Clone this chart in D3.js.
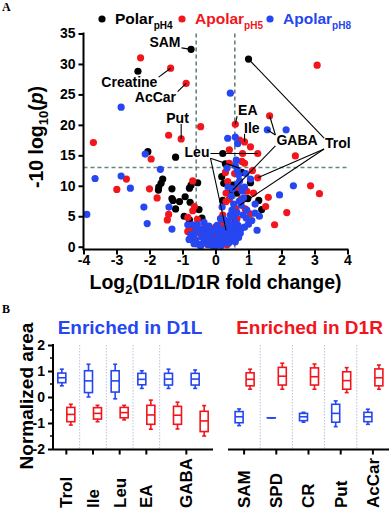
<!DOCTYPE html>
<html><head><meta charset="utf-8">
<script src="https://cdn.jsdelivr.net/npm/d3@7"></script>
<style>
html,body{margin:0;padding:0;background:#fff;}
svg{display:block;font-family:"Liberation Sans",Arial,sans-serif;}
</style></head><body>
<svg id="c" width="391" height="520"></svg>
<script>
// ---------------- DATA ----------------
const xTicksA = [-4,-3,-2,-1,0,1,2,3,4];
const yTicksA = [0,5,10,15,20,25,30,35];
const foldCut = 0.585;      // log2(1.5)
const pCut = 13.01;         // -10 log10(0.05)

const polarPH4 = [[-0.74,32.4],[-2.35,28.8],[1.0,30.8],[-2.05,15.6],[-1.21,14.7],[-1.6,11.1],[-1.65,10.4],[-1.72,9.8],[-1.73,9.3],[-1.32,9.5],[-1.32,7.9],[-1.29,7.6],[-1.09,7.4],[-0.92,8.2],[-1.21,6.2],[-0.77,7.3],[-0.79,9.6],[-0.74,10.1],[-0.54,10.5],[-0.79,4.4],[1.31,7.6],[1.4,6.1],[1.06,10.5],[0.22,15.3],[0.19,11.5],[0.25,10.4],[0.52,10.1],[0.45,9.3],[0.22,7.6],[0.98,7.9],[-0.41,4.7],[-0.6,3.2],[-0.3,1.8],[0.12,1.2],[0.38,3.1],[0.55,5.6],[0.3,0.6],[0.65,8.8],[0.6,4.2],[-0.15,0.9],[0.05,2.3],[0.8,12.2],[-0.5,6.1],[-0.95,5.0],[0.7,2.9],[0.3,13.6]];

const apolarPH5 = [[-2.27,31.0],[-1.36,29.3],[-0.89,26.8],[-1.42,18.3],[-1.04,17.7],[-0.45,19.7],[3.08,29.8],[1.64,21.5],[0.6,20.1],[-3.7,17.1],[-1.95,14.4],[-2.7,11.1],[-2.99,9.4],[-2.0,9.5],[-1.77,8.0],[-1.46,4.4],[-1.42,5.3],[-0.69,10.8],[-0.69,5.9],[-0.64,6.6],[-0.84,4.8],[-0.84,2.5],[1.06,16.4],[1.28,15.3],[2.42,14.9],[1.28,11.3],[2.88,10.0],[3.15,8.7],[1.6,8.1],[2.16,5.6],[1.79,3.6],[0.8,14.0],[0.88,13.7],[0.88,17.2],[0.73,17.5],[0.42,15.9],[0.82,15.3],[0.42,13.7],[0.37,10.7],[0.32,8.8],[0.42,7.8],[0.32,7.4],[0.22,5.2],[0.07,2.7],[1.52,6.6],[0.58,12.0],[0.7,9.7],[0.9,6.2],[-0.62,1.2],[-0.45,2.2],[-0.2,1.1],[-0.05,0.5],[0.15,0.9],[0.28,1.6],[0.45,2.4],[0.52,3.6],[0.18,3.8],[-0.32,3.3],[0.62,6.2],[0.95,9.1],[1.12,12.5],[0.3,12.2],[1.15,8.8],[-0.1,2.0],[-0.55,4.5],[-0.7,3.0],[0.1,1.6],[0.35,0.3],[0.55,1.2],[0.65,4.6],[0.78,7.8],[-0.25,0.4],[0.0,3.2],[1.05,5.4]];

const apolarPH8 = [[-2.86,22.9],[0.45,25.2],[1.57,19.2],[2.14,19.2],[0.37,17.8],[0.6,18.0],[-2.13,15.2],[-1.67,12.7],[-3.65,11.2],[-2.86,11.6],[-2.58,9.6],[-2.17,6.5],[-1.41,6.5],[-3.9,5.3],[-2.07,3.8],[-1.32,2.9],[-0.84,3.6],[-0.7,3.6],[-0.69,1.5],[-0.58,2.7],[2.36,10.0],[1.94,8.5],[1.33,5.0],[1.2,5.5],[1.26,2.7],[1.06,11.1],[0.73,10.8],[0.63,14.2],[0.66,12.6],[0.7,11.8],[0.67,16.9],[0.35,12.9],[0.48,8.3],[0.78,6.8],[0.83,5.2],[0.93,4.7],[0.5,6.0],[1.0,3.7],[-0.35,4.0],[-0.75,2.0],[-0.6,1.0],[-0.5,0.4],[-0.42,1.6],[-0.35,0.8],[-0.28,2.6],[-0.22,0.3],[-0.15,1.5],[-0.1,0.2],[-0.05,1.0],[0.0,0.1],[0.02,0.6],[0.08,1.8],[0.1,0.3],[0.15,1.1],[0.2,0.5],[0.22,2.2],[0.28,0.9],[0.3,3.0],[0.35,1.4],[0.38,4.2],[0.4,0.6],[0.42,2.0],[0.48,3.3],[0.5,1.0],[0.55,4.8],[0.58,2.6],[0.62,1.8],[0.65,5.6],[0.68,3.5],[0.72,7.5],[0.75,2.2],[0.8,9.2],[0.55,7.0],[0.45,5.2],[-0.4,2.9],[-0.55,3.6],[-0.2,3.4],[0.12,2.8],[0.25,4.5],[-0.65,0.5],[-0.8,1.2],[0.85,8.0],[0.95,6.0],[1.1,4.3],[0.38,9.8],[0.6,13.3],[0.2,6.5],[-0.12,2.5],[0.05,3.5],[-0.45,0.1],[-0.3,1.3],[-0.18,2.1],[-0.08,0.6],[0.05,1.3],[0.18,0.2],[0.25,1.4],[0.33,2.2],[0.45,1.5],[0.52,2.8],[0.6,0.8],[0.7,1.5],[0.78,3.0],[0.88,3.2],[0.62,3.9],[0.4,3.8],[-0.02,2.8],[-0.38,2.2],[-0.62,2.2],[0.52,9.5],[0.68,10.3],[0.88,9.8],[1.2,7.0],[0.92,12.0],[0.15,4.6]];

const seriesNames = ["Polar","Apolar","Apolar"];
const seriesSubs = ["pH4","pH5","pH8"];

// labelled metabolites: label position and target points in data units
const annotations = [
  {label:"SAM",      at:[-1.06,32.8], anchor:"end",    targets:[[-0.74,32.4]]},
  {label:"Creatine", at:[-2.61,26.2], anchor:"middle", targets:[[-1.36,29.3]]},
  {label:"AcCar",    at:[-1.82,23.8], anchor:"middle", targets:[[-0.89,26.8]]},
  {label:"Put",      at:[-1.15,20.3], anchor:"middle", targets:[[-1.04,17.7]]},
  {label:"EA",       at:[0.98,21.6],  anchor:"middle", targets:[[0.6,20.1]]},
  {label:"Ile",      at:[1.1,18.7],   anchor:"middle", targets:[[0.88,17.2]]},
  {label:"GABA",     at:[2.47,16.7],  anchor:"middle", targets:[[1.64,21.5],[1.57,19.2],[0.52,9.3]]},
  {label:"Trol",     at:[3.71,16.2],  anchor:"middle", targets:[[1.0,30.8],[1.28,11.3],[0.73,6.8]]},
  {label:"Leu",      at:[-0.56,14.7], anchor:"middle", targets:[[1.28,15.3],[0.73,12.9],[0.32,2.7]]}
];

// Panel B: box stats [min, q1, median, q3, max]
const leftSlots = ["Trol","Ile","Leu","EA","GABA1","GABA2"];
const leftCats = ["Trol","Ile","Leu","EA","GABA"];
const leftCatSlots = [["Trol"],["Ile"],["Leu"],["EA"],["GABA1","GABA2"]];
const rightCats = ["SAM","SPD","CR","Put","AcCar"];
const yTicksB = [-2,-1,0,1,2];
const yMinorB = [-1.5,-0.5,0.5,1.5];

const d1lD1LBoxes = [[0.43,0.55,0.74,0.92,1.07],[0.0,0.17,0.62,1.01,1.26],[-0.07,0.19,0.62,1.01,1.26],[0.33,0.47,0.68,0.91,1.01],[0.33,0.46,0.69,0.91,1.07],[0.33,0.46,0.69,0.91,1.04]];
const d1lD1RBoxes = [[-1.08,-0.95,-0.67,-0.4,-0.28],[-0.95,-0.85,-0.63,-0.41,-0.32],[-0.88,-0.8,-0.6,-0.4,-0.32],[-1.24,-1.05,-0.69,-0.32,-0.12],[-1.23,-1.05,-0.7,-0.36,-0.2],[-1.5,-1.33,-0.92,-0.55,-0.33]];
const d1rD1RBoxes = [[0.3,0.43,0.68,0.93,1.07],[0.3,0.46,0.8,1.14,1.3],[0.3,0.46,0.78,1.12,1.27],[0.17,0.3,0.63,0.97,1.13],[0.3,0.43,0.74,1.08,1.23]];
const d1rD1LBoxes = [[-1.1,-0.99,-0.76,-0.56,-0.46],[-0.8,-0.8,-0.8,-0.8,-0.8],[-0.97,-0.91,-0.76,-0.63,-0.59],[-1.14,-0.97,-0.63,-0.28,-0.15],[-1.05,-0.95,-0.76,-0.59,-0.47]];

// ---------------- STYLE ----------------
const BLACK="#000000", RED="#f2151c", BLUE="#2546f0", DASH="#6a8282", SEP="#b8c0dc";
const svg = d3.select("#c");

// ---------------- PANEL A ----------------
const x = d3.scaleLinear().domain([-4,4]).range([83.5,347.5]);
const y = d3.scaleLinear().domain([0,35]).range([246.7,33.5]);
const gA = svg.append("g");
const axisY0 = 249.5;

// threshold lines
gA.selectAll("line.vcut").data([-foldCut, foldCut]).join("line")
  .attr("x1",d=>x(d)).attr("x2",d=>x(d)).attr("y1",y(35)).attr("y2",axisY0)
  .attr("stroke",DASH).attr("stroke-width",1.6).attr("stroke-dasharray","4,3");
gA.append("line").attr("x1",x(-4)).attr("x2",x(4)).attr("y1",y(pCut)).attr("y2",y(pCut))
  .attr("stroke",DASH).attr("stroke-width",1.6).attr("stroke-dasharray","4,3");

// points
const series = [{d:polarPH4,c:BLACK},{d:apolarPH5,c:RED},{d:apolarPH8,c:BLUE}];
series.forEach(s=>{
  gA.append("g").selectAll("circle").data(s.d).join("circle")
    .attr("cx",d=>x(d[0])).attr("cy",d=>y(d[1])).attr("r",3.6).attr("fill",s.c);
});

// axes
const xAx = gA.append("g").attr("transform",`translate(0,${axisY0})`)
  .call(d3.axisBottom(x).tickValues(xTicksA).tickSize(5).tickSizeOuter(0).tickPadding(1).tickFormat(d=>String(d)));
const yAx = gA.append("g").attr("transform",`translate(${x(-4)},0)`)
  .call(d3.axisLeft(y).tickValues(yTicksA).tickSize(5).tickSizeOuter(0).tickPadding(3).tickFormat(d=>String(d)));
[xAx,yAx].forEach(g=>{
  g.select(".domain").remove();
  g.selectAll(".tick line").attr("stroke",BLACK).attr("stroke-width",2);
  g.selectAll(".tick text").attr("fill",BLACK).attr("font-size",14).attr("font-weight","bold")
    .attr("font-family","Liberation Sans, Arial, sans-serif");
});
gA.append("line").attr("x1",x(-4)-1).attr("x2",x(4)+1).attr("y1",axisY0).attr("y2",axisY0).attr("stroke",BLACK).attr("stroke-width",2);
gA.append("line").attr("x1",x(-4)).attr("x2",x(-4)).attr("y1",y(35)-1).attr("y2",axisY0).attr("stroke",BLACK).attr("stroke-width",2);

// axis titles
const xt = gA.append("text").attr("x",(x(-4)+x(4))/2).attr("y",289).attr("text-anchor","middle")
  .attr("font-size",19.5).attr("font-weight","bold").attr("fill",BLACK);
xt.append("tspan").text("Log");
xt.append("tspan").attr("font-size",13).attr("dy",5).text("2");
xt.append("tspan").attr("dy",-5).text("(D1L/D1R fold change)");

const yt = gA.append("text").attr("transform",`translate(43,137) rotate(-90)`).attr("text-anchor","middle")
  .attr("font-size",19.5).attr("font-weight","bold").attr("fill",BLACK);
yt.append("tspan").text("-10 log");
yt.append("tspan").attr("font-size",13).attr("dy",5).text("10");
yt.append("tspan").attr("dy",-5).text("(");
yt.append("tspan").attr("font-style","italic").text("p");
yt.append("tspan").text(")");

// legend
const legX = [102,182,270];
const legCol = [BLACK,RED,BLUE];
seriesNames.forEach((n,i)=>{
  const g = gA.append("g");
  g.append("circle").attr("cx",legX[i]).attr("cy",19).attr("r",3.6).attr("fill",legCol[i]);
  const t = g.append("text").attr("x",legX[i]+13).attr("y",24).attr("font-size",15.5).attr("font-weight","bold").attr("fill",legCol[i]);
  t.append("tspan").text(n);
  t.append("tspan").attr("font-size",10).attr("dy",5).text(seriesSubs[i]);
});

// annotations
annotations.forEach(a=>{
  const t = gA.append("text").attr("x",x(a.at[0])).attr("y",y(a.at[1])).attr("text-anchor",a.anchor)
    .attr("font-size",14).attr("font-weight","bold").attr("fill",BLACK).text(a.label);
  const b = t.node().getBBox();
  a.targets.forEach(tg=>{
    const tx=x(tg[0]), ty=y(tg[1]);
    const cx = Math.max(b.x-1, Math.min(b.x+b.width+1, tx));
    const cy = Math.max(b.y+3, Math.min(b.y+b.height-2, ty));
    gA.append("line").attr("x1",cx).attr("y1",cy).attr("x2",tx).attr("y2",ty)
      .attr("stroke",BLACK).attr("stroke-width",1.1);
  });
});

// panel letters
svg.append("text").attr("x",2).attr("y",11).attr("font-family","Liberation Serif, serif").attr("font-weight","bold").attr("font-size",12).text("A");
svg.append("text").attr("x",2).attr("y",313).attr("font-family","Liberation Serif, serif").attr("font-weight","bold").attr("font-size",12).text("B");

// ---------------- PANEL B ----------------
const yB = d3.scaleLinear().domain([-2,2]).range([449,345]);
const xL = d3.scaleBand().domain(leftSlots).range([53,213]);
const xR = d3.scaleBand().domain(rightCats).range([228,389]);
const axB = 449.5;
const gB = svg.append("g");

function separators(scale, keys){
  gB.selectAll(null).data(keys).join("line")
    .attr("x1",d=>scale(d)).attr("x2",d=>scale(d)).attr("y1",yB(2)).attr("y2",axB)
    .attr("stroke",SEP).attr("stroke-width",1).attr("stroke-dasharray","1.5,1.5");
}
separators(xL, ["Ile","Leu","EA","GABA1"]);
separators(xR, ["SPD","CR","Put","AcCar"]);

function boxes(scale, keys, data, color, off){
  const bw = 8, cap = 4;
  const g = gB.append("g").attr("fill","none").attr("stroke",color).attr("stroke-width",1.6);
  keys.forEach((k,i)=>{
    const s = data[i];
    const cx = scale(k) + scale.bandwidth()/2 + off;
    g.append("line").attr("x1",cx).attr("x2",cx).attr("y1",yB(s[4])).attr("y2",yB(s[3]));
    g.append("line").attr("x1",cx).attr("x2",cx).attr("y1",yB(s[1])).attr("y2",yB(s[0]));
    g.append("line").attr("x1",cx-cap/2).attr("x2",cx+cap/2).attr("y1",yB(s[4])).attr("y2",yB(s[4]));
    g.append("line").attr("x1",cx-cap/2).attr("x2",cx+cap/2).attr("y1",yB(s[0])).attr("y2",yB(s[0]));
    g.append("rect").attr("x",cx-bw/2).attr("width",bw).attr("y",yB(s[3])).attr("height",Math.max(0.01,yB(s[1])-yB(s[3])));
    g.append("line").attr("x1",cx-bw/2).attr("x2",cx+bw/2).attr("y1",yB(s[2])).attr("y2",yB(s[2]));
  });
}
boxes(xL, leftSlots, d1lD1LBoxes, BLUE, -4.5);
boxes(xL, leftSlots, d1lD1RBoxes, RED, 4.5);
boxes(xR, rightCats, d1rD1LBoxes, BLUE, -5);
boxes(xR, rightCats, d1rD1RBoxes, RED, 6);

// y axis
const yBAx = gB.append("g").attr("transform","translate(53,0)")
  .call(d3.axisLeft(yB).tickValues(yTicksB).tickSize(5).tickSizeOuter(0).tickPadding(3).tickFormat(d=>String(d)));
yBAx.select(".domain").remove();
yBAx.selectAll(".tick line").attr("stroke",BLACK).attr("stroke-width",2);
yBAx.selectAll(".tick text").attr("fill",BLACK).attr("font-size",14).attr("font-weight","bold").attr("font-family","Liberation Sans, Arial, sans-serif");
gB.selectAll(null).data(yMinorB).join("line").attr("x1",50).attr("x2",53).attr("y1",d=>yB(d)).attr("y2",d=>yB(d)).attr("stroke",BLACK).attr("stroke-width",1.5);
gB.append("line").attr("x1",53).attr("x2",53).attr("y1",yB(2)-1).attr("y2",axB).attr("stroke",BLACK).attr("stroke-width",2);

// x axes
const leftCenters = leftCatSlots.map(sl=>d3.mean(sl,k=>xL(k)+xL.bandwidth()/2));
const rightCenters = rightCats.map(k=>xR(k)+xR.bandwidth()/2);
function xAxisB(x0,x1,centers,labels){
  gB.append("line").attr("x1",x0).attr("x2",x1).attr("y1",axB).attr("y2",axB).attr("stroke",BLACK).attr("stroke-width",2);
  centers.forEach((c,i)=>{
    gB.append("line").attr("x1",c).attr("x2",c).attr("y1",axB).attr("y2",axB+5).attr("stroke",BLACK).attr("stroke-width",2);
    gB.append("text").attr("transform",`translate(${c},508) rotate(-90)`).attr("dy","0.35em")
      .attr("text-anchor","start").attr("font-size",17).attr("font-weight","bold").attr("fill",BLACK).text(labels[i]);
  });
}
xAxisB(53,213,leftCenters,leftCats);
xAxisB(228,389,rightCenters,rightCats);

// titles
gB.append("text").attr("x",130).attr("y",334).attr("text-anchor","middle").attr("font-size",19).attr("font-weight","bold").attr("fill",BLUE).text("Enriched in D1L");
gB.append("text").attr("x",309.5).attr("y",334).attr("text-anchor","middle").attr("font-size",19).attr("font-weight","bold").attr("fill",RED).text("Enriched in D1R");
gB.append("text").attr("transform","translate(33,396) rotate(-90)").attr("text-anchor","middle").attr("font-size",19).attr("font-weight","bold").attr("fill",BLACK).text("Normalized area");
</script>
</body></html>
